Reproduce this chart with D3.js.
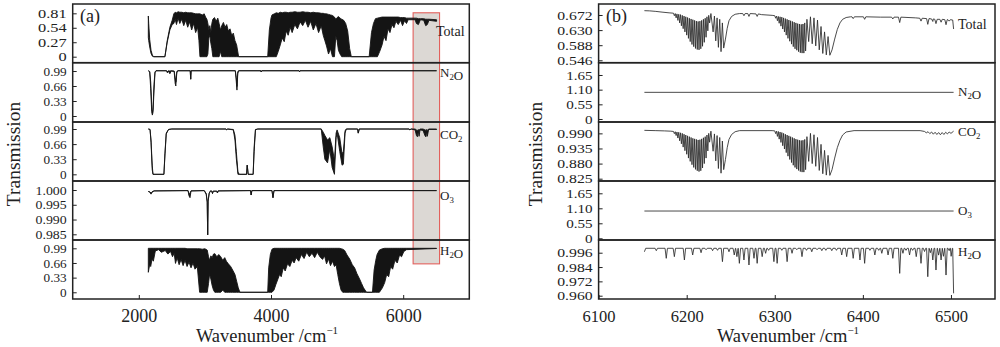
<!DOCTYPE html>
<html>
<head>
<meta charset="utf-8">
<title>Transmission spectra</title>
<script src="https://d3js.org/d3.v7.min.js"></script>
<style>
  body { margin: 0; background: #fff; }
  svg text { font-family: "Liberation Serif", "DejaVu Serif", serif; fill: #222; }
</style>
</head>
<body>
<svg id="chart" width="1000" height="347"></svg>
<script>
// ---------- panel (a): [wavenumber, upper envelope, lower envelope] ----------
const totalA = [
  [2144,0.76,0.36],[2150,0.62,0.30],[2165,0.32,0.18],[2185,0.12,0.06],[2205,0.03,0.01],[2225,0,0],
  [2395,0,0],[2430,0.30,0.27],[2470,0.55,0.50],[2505,0.68,0.60],[2530,0.80,0.62],[2550,0.83,0.70],
  [2570,0.82,0.60],[2595,0.84,0.72],[2620,0.83,0.62],[2650,0.83,0.70],[2680,0.82,0.58],[2710,0.83,0.68],
  [2740,0.82,0.55],[2770,0.82,0.65],[2800,0.82,0.50],[2830,0.81,0.62],[2860,0.80,0.45],[2890,0.80,0.55],
  [2910,0.80,0.30],[2925,0.80,0],[2960,0.78,0],[2990,0.80,0],[3010,0.74,0],[3030,0.70,0],
  [3045,0.62,0.05],[3060,0.50,0.35],[3075,0.58,0.40],[3090,0.45,0.25],[3105,0.62,0.15],[3120,0.70,0],
  [3145,0.73,0],[3170,0.66,0],[3195,0.72,0],[3215,0.62,0],[3235,0.50,0.10],[3255,0.58,0],[3280,0.64,0],
  [3305,0.55,0],[3330,0.60,0],[3355,0.48,0],[3380,0.52,0],[3405,0.40,0],[3430,0.44,0],[3455,0.30,0],
  [3480,0.22,0],[3510,0,0],[3950,0,0],[3975,0.50,0],[4000,0.72,0],[4015,0.78,0],[4050,0.80,0],
  [4080,0.82,0],[4110,0.81,0.10],[4140,0.83,0.22],[4170,0.82,0.35],[4200,0.83,0.28],[4230,0.83,0.48],
  [4260,0.82,0.40],[4290,0.83,0.55],[4320,0.83,0.45],[4360,0.84,0.60],[4400,0.83,0.52],[4440,0.83,0.65],
  [4480,0.84,0.58],[4520,0.83,0.68],[4560,0.83,0.55],[4600,0.82,0.66],[4640,0.83,0.50],[4680,0.82,0.62],
  [4720,0.82,0.45],[4760,0.81,0.58],[4790,0.81,0.40],[4815,0.80,0.30],[4840,0.80,0.20],[4870,0.79,0.05],
  [4900,0.78,0.15],[4930,0.77,0],[4960,0.74,0],[4980,0.70,0.38],[5000,0.73,0.30],[5020,0.75,0.12],
  [5045,0.72,0.05],[5070,0.70,0],[5100,0.68,0],[5130,0.62,0],[5160,0.48,0],[5190,0.15,0],[5215,0,0],
  [5485,0,0],[5520,0.45,0],[5550,0.62,0],[5580,0.71,0],[5610,0.72,0],[5645,0.73,0.10],[5680,0.74,0.22],
  [5710,0.74,0.38],[5740,0.74,0.30],[5770,0.74,0.52],[5800,0.74,0.45],[5830,0.74,0.60],[5860,0.74,0.54],
  [5890,0.74,0.66],[5925,0.74,0.60],[5960,0.73,0.68],[5990,0.73,0.58],[6020,0.73,0.67],[6050,0.72,0.62],
  [6075,0.72,0.69],[6180,0.72,0.69],[6200,0.72,0.62],[6230,0.71,0.60],[6260,0.71,0.69],[6310,0.71,0.68],
  [6340,0.70,0.58],[6365,0.70,0.60],[6390,0.70,0.68],[6505,0.69,0.66]
];
const n2oA = [
  [2144,0.996,0.996],[2165,0.98,0.97],[2180,0.75,0.60],[2195,0.25,0.10],[2205,0.06,0.02],
  [2215,0.15,0.08],[2230,0.70,0.55],[2245,0.97,0.95],[2260,0.996,0.996],[2420,0.996,0.996],
  [2432,0.97,0.95],[2445,0.995,0.99],[2470,0.99,0.93],[2490,0.995,0.99],[2535,0.99,0.98],
  [2550,0.85,0.72],[2560,0.75,0.66],[2575,0.98,0.95],[2590,0.996,0.996],[2778,0.996,0.996],
  [2785,0.81,0.81],[2792,0.996,0.996],[3460,0.996,0.996],[3475,0.85,0.75],[3485,0.65,0.57],
  [3497,0.97,0.93],[3510,0.996,0.996],[3845,0.996,0.996],[3852,0.97,0.97],[3860,0.996,0.996],
  [4425,0.996,0.996],[4432,0.975,0.975],[4440,0.996,0.996],[6505,0.996,0.996]
];
const co2A = [
  [2144,0.99,0.99],[2170,0.98,0.98],[2185,0.75,0.70],[2203,0.20,0.10],[2215,0,0],[2380,0,0],
  [2395,0.45,0.40],[2415,0.90,0.88],[2450,0.98,0.98],[2500,0.99,0.99],[3320,0.99,0.99],
  [3330,0.975,0.97],[3345,0.99,0.99],[3430,0.98,0.97],[3455,0.85,0.75],[3475,0.50,0.35],
  [3500,0.05,0],[3520,0,0],[3630,0,0],[3640,0.20,0.20],[3655,0,0],[3730,0,0],[3745,0.60,0.50],
  [3765,0.98,0.97],[3800,0.99,0.99],[4760,0.99,0.99],[4790,0.92,0.60],[4815,0.85,0.33],
  [4855,0.75,0.25],[4890,0.80,0.55],[4925,0.60,0.15],[4960,0.30,0],[4985,0.90,0.80],
  [5000,0.97,0.90],[5040,0.80,0.50],[5075,0.45,0.20],[5095,0.50,0.22],[5120,0.95,0.90],
  [5140,0.99,0.99],[5310,0.99,0.99],[5320,0.90,0.90],[5335,0.99,0.99],[6090,0.99,0.99],
  [6100,0.975,0.97],[6120,0.99,0.99],[6180,0.99,0.97],[6200,0.97,0.85],[6215,0.95,0.82],
  [6228,0.98,0.95],[6240,0.96,0.83],[6255,0.99,0.97],[6300,0.99,0.96],[6330,0.97,0.84],
  [6345,0.96,0.82],[6355,0.98,0.94],[6365,0.96,0.83],[6385,0.99,0.98],[6505,0.99,0.98]
];
const o3A = [
  [2144,0.9995,0.9995],[2165,0.9994,0.9993],[2185,0.9990,0.9986],[2200,0.9994,0.9992],
  [2230,0.9997,0.9997],[2745,0.9998,0.9998],[2760,0.9985,0.9980],[2775,0.9990,0.9974],
  [2790,0.9997,0.9997],[2990,0.9998,0.9998],[3020,0.9988,0.9985],[3035,0.9962,0.9958],
  [3042,0.9848,0.9848],[3049,0.9965,0.9962],[3065,0.9990,0.9988],[3085,0.9997,0.9997],
  [3105,0.9996,0.9996],[3115,0.9988,0.9988],[3125,0.9996,0.9996],[3180,0.9996,0.9996],
  [3190,0.9990,0.9990],[3200,0.9997,0.9997],[3690,0.9998,0.9998],[3700,0.9983,0.9983],
  [3710,0.9998,0.9998],[4015,0.9998,0.9998],[4030,0.9974,0.9974],[4045,0.9998,0.9998],
  [6505,0.9998,0.9998]
];
const h2oA = [
  [2144,0.99,0.45],[2152,0.99,0.52],[2165,0.99,0.62],[2180,0.99,0.58],[2200,0.99,0.75],[2220,0.99,0.70],
  [2250,0.99,0.93],[2300,0.99,0.96],[2340,0.99,0.90],[2400,0.99,0.94],[2440,0.99,0.86],[2480,0.99,0.92],
  [2510,0.99,0.80],[2535,0.99,0.88],[2555,0.99,0.65],[2580,0.99,0.78],[2610,0.99,0.62],[2640,0.99,0.74],
  [2670,0.99,0.60],[2700,0.99,0.72],[2730,0.98,0.58],[2760,0.98,0.68],[2790,0.98,0.55],[2820,0.98,0.66],
  [2850,0.98,0.52],[2885,0.98,0.58],[2920,0.98,0],[2960,0.97,0],[3000,0.98,0],[3035,0.95,0],
  [3055,0.80,0.20],[3070,0.72,0.40],[3090,0.82,0.30],[3110,0.78,0.15],[3130,0.86,0.05],[3150,0.87,0],
  [3180,0.80,0],[3210,0.85,0],[3240,0.80,0],[3270,0.72,0.05],[3300,0.78,0],[3325,0.70,0],[3355,0.64,0],
  [3390,0.58,0],[3420,0.50,0],[3455,0.40,0],[3480,0.25,0],[3505,0.10,0],[3530,0,0],[3950,0,0],
  [3965,0.55,0],[3990,0.85,0],[4015,0.97,0],[4045,0.99,0.05],[4075,0.99,0.18],[4105,0.99,0.30],
  [4130,0.99,0.40],[4155,0.99,0.35],[4185,0.99,0.55],[4215,0.99,0.48],[4250,0.99,0.64],[4285,0.99,0.58],
  [4320,0.99,0.72],[4350,0.99,0.66],[4380,0.99,0.78],[4420,0.99,0.70],[4460,0.99,0.85],[4500,0.99,0.76],
  [4540,0.99,0.90],[4580,0.99,0.80],[4620,0.99,0.88],[4660,0.99,0.78],[4700,0.99,0.90],[4740,0.99,0.80],
  [4780,0.99,0.74],[4810,0.99,0.82],[4840,0.99,0.64],[4870,0.99,0.75],[4900,0.99,0.60],[4930,0.99,0.70],
  [4960,0.99,0.58],[4985,0.99,0.62],[5010,0.99,0.40],[5035,0.99,0.20],[5060,0.98,0.05],[5085,0.97,0],
  [5115,0.94,0],[5150,0.84,0],[5190,0.75,0],[5230,0.62,0],[5265,0.55,0],[5300,0.42,0],[5340,0.30,0],
  [5370,0.20,0],[5400,0.10,0],[5445,0,0],[5535,0,0],[5560,0.50,0],[5585,0.72,0],[5605,0.85,0],
  [5640,0.95,0],[5685,0.98,0.10],[5720,0.99,0.22],[5750,0.99,0.40],[5780,0.99,0.35],[5810,0.99,0.58],
  [5840,0.99,0.52],[5875,0.99,0.72],[5910,0.99,0.66],[5945,0.99,0.84],[5975,0.99,0.80],[6010,0.99,0.92],
  [6050,0.99,0.96],[6505,0.99,0.985]
];
const highlightA = { wn: [6150, 6550], totalTop: 0.82, h2oBottom: 0.64 };

// ---------- panel (b): curves [wavenumber, T] and narrow lines [wavenumber, top, minimum] ----------
const totalB = [
  [6152,0.684],[6158,0.6835],[6165,0.682],[6172,0.680],[6180,0.678],
  [6185,0.677],[6186,0.670],[6187,0.676],[6188,0.664],[6189,0.675],[6190,0.657],[6191,0.674],[6192,0.650],
  [6193,0.673],[6194,0.642],[6195,0.671],[6196,0.634],[6197,0.669],[6198,0.625],[6199,0.667],[6200,0.616],
  [6201,0.665],[6202,0.607],[6203,0.663],[6204,0.598],[6205,0.661],[6206,0.590],[6207,0.659],[6208,0.584],
  [6209,0.657],[6210,0.579],[6211,0.655],[6212,0.576],[6213,0.654],[6214,0.575],[6215,0.655],[6216,0.578],
  [6217,0.657],[6218,0.585],[6219,0.660],[6220,0.596],[6221,0.663],[6222,0.610],[6223,0.667],[6224,0.628],
  [6225,0.671],[6226,0.650],[6227.5,0.676],
  [6230,0.625],[6231.5,0.669],[6233,0.600],[6234.5,0.664],[6236,0.582],[6237.5,0.660],[6239,0.570],
  [6240.5,0.650],[6242,0.580],[6244,0.605],[6246,0.635],[6248,0.656],[6251,0.668],[6255,0.674],[6260,0.676],
  [6285,0.673],[6297,0.671],
  [6300,0.670],[6301,0.663],[6302,0.669],[6303,0.656],[6304,0.668],[6305,0.649],[6306,0.667],[6307,0.641],
  [6308,0.666],[6309,0.633],[6310,0.664],[6311,0.625],[6312,0.662],[6313,0.616],[6314,0.660],[6315,0.607],
  [6316,0.658],[6317,0.599],[6318,0.656],[6319,0.591],[6320,0.654],[6321,0.584],[6322,0.652],[6323,0.578],
  [6324,0.650],[6325,0.574],[6326,0.648],[6327,0.570],[6328,0.647],[6329,0.567],[6330,0.646],[6331,0.566],
  [6332,0.647],[6333,0.566],[6334,0.650],[6335,0.572],[6336.5,0.660],
  [6338.5,0.598],[6340.5,0.667],[6342.5,0.592],[6344.5,0.664],[6346.5,0.586],[6348.5,0.658],[6350.5,0.575],
  [6352.5,0.640],[6354.5,0.565],[6356.5,0.625],[6358.5,0.561],[6360.5,0.612],[6362.5,0.560],
  [6365,0.575],[6368,0.605],[6371,0.632],[6374,0.650],[6377,0.660],[6381,0.665],[6386,0.667],
  [6420,0.666],[6460,0.664],[6480,0.661],[6502,0.658],[6503,0.633]
];
const totalBLines = [
  [6265,0.676,0.670],[6270.7,0.676,0.668],[6280,0.675,0.668],[6389,0.667,0.662],[6402,0.667,0.660],
  [6434,0.666,0.661],[6441.8,0.666,0.651],[6466,0.663,0.655],[6473.7,0.662,0.646],[6479.4,0.661,0.654],
  [6483,0.660,0.648],[6488.8,0.660,0.652],[6494.4,0.659,0.645],[6498,0.659,0.655]
];
const n2oB = [[6152,1.0],[6503,1.0]];
const co2B = [
  [6152,1.001],[6165,1.000],[6175,0.999],[6182,0.998],
  [6185,0.997],[6186,0.989],[6187,0.996],[6188,0.982],[6189,0.995],[6190,0.973],[6191,0.994],[6192,0.963],
  [6193,0.992],[6194,0.952],[6195,0.990],[6196,0.940],[6197,0.987],[6198,0.927],[6199,0.984],[6200,0.914],
  [6201,0.981],[6202,0.900],[6203,0.978],[6204,0.888],[6205,0.975],[6206,0.876],[6207,0.972],[6208,0.866],
  [6209,0.970],[6210,0.859],[6211,0.968],[6212,0.854],[6213,0.966],[6214,0.851],[6215,0.967],[6216,0.854],
  [6217,0.970],[6218,0.864],[6219,0.974],[6220,0.880],[6221,0.978],[6222,0.900],[6223,0.984],[6224,0.926],
  [6225,0.990],[6226,0.958],[6227.5,0.998],
  [6230,0.925],[6231.5,0.988],[6233,0.890],[6234.5,0.982],[6236,0.862],[6237.5,0.975],[6239,0.845],
  [6240.5,0.962],[6242,0.858],[6244,0.895],[6246,0.938],[6248,0.968],[6251,0.986],[6255,0.996],[6260,1.000],
  [6297,1.000],
  [6300,0.999],[6301,0.989],[6302,0.998],[6303,0.979],[6304,0.997],[6305,0.969],[6306,0.995],[6307,0.957],
  [6308,0.993],[6309,0.945],[6310,0.990],[6311,0.933],[6312,0.987],[6313,0.920],[6314,0.984],[6315,0.907],
  [6316,0.981],[6317,0.895],[6318,0.978],[6319,0.884],[6320,0.975],[6321,0.874],[6322,0.972],[6323,0.866],
  [6324,0.969],[6325,0.860],[6326,0.967],[6327,0.855],[6328,0.965],[6329,0.851],[6330,0.964],[6331,0.849],
  [6332,0.965],[6333,0.849],[6334,0.968],[6335,0.858],[6336.5,0.978],
  [6338.5,0.888],[6340.5,0.990],[6342.5,0.880],[6344.5,0.985],[6346.5,0.870],[6348.5,0.975],[6350.5,0.855],
  [6352.5,0.950],[6354.5,0.843],[6356.5,0.928],[6358.5,0.838],[6360.5,0.910],[6362.5,0.837],
  [6365,0.858],[6368,0.900],[6371,0.938],[6374,0.965],[6377,0.984],[6381,0.995],[6390,1.000],[6465,1.000],
  [6470,0.997],[6472,0.992],[6474,0.996],[6476,0.989],[6478,0.995],[6480,0.987],[6482,0.994],[6484,0.986],
  [6486,0.993],[6488,0.985],[6490,0.993],[6492,0.986],[6494,0.994],[6496,0.988],[6498,0.995],[6500,0.990],
  [6503,0.998]
];
const o3B = [[6152,1.0],[6503,1.0]];
const h2oB = [[6152,0.9968],[6153.5,0.9997],[6502,0.9997],[6503,0.9620]];
const h2oBLines = [
  [6165.5,0.9997,0.9977],[6176.8,0.9997,0.9913],[6186,0.9997,0.9927],[6197.4,0.9997,0.9899],
  [6206.8,0.9997,0.9941],[6216.3,0.9997,0.9960],[6222,0.9997,0.9985],[6229.4,0.9997,0.9977],
  [6235,0.9997,0.9980],[6240.6,0.9997,0.9885],[6248,0.9997,0.9968],[6254,0.9997,0.9941],
  [6257,0.9997,0.9927],[6259.8,0.9997,0.9871],[6265,0.9997,0.9899],[6270.7,0.9997,0.9857],
  [6276.4,0.9997,0.9913],[6280,0.9997,0.9871],[6285.7,0.9997,0.9927],[6289.6,0.9997,0.9955],
  [6293,0.9997,0.9980],[6299,0.9997,0.9885],[6302.7,0.9997,0.9871],[6308,0.9997,0.9980],
  [6314,0.9997,0.9885],[6319.6,0.9997,0.9955],[6325,0.9997,0.9985],[6330.9,0.9997,0.9927],
  [6336,0.9997,0.9980],[6342,0.9997,0.9968],[6348,0.9997,0.9985],[6353.4,0.9997,0.9977],
  [6358,0.9997,0.9980],[6364.7,0.9997,0.9977],[6370,0.9997,0.9980],[6376,0.9997,0.9941],
  [6381.6,0.9997,0.9927],[6389,0.9997,0.9913],[6396.7,0.9997,0.9899],[6402,0.9997,0.9871],
  [6408,0.9997,0.9980],[6413.6,0.9997,0.9941],[6418,0.9997,0.9980],[6421.5,0.9997,0.9955],
  [6428.6,0.9997,0.9941],[6434,0.9997,0.9913],[6441.8,0.9997,0.9787],[6445.5,0.9997,0.9955],
  [6449,0.9997,0.9980],[6453,0.9997,0.9941],[6456.5,0.9997,0.9980],[6460.6,0.9997,0.9927],
  [6466,0.9997,0.9871],[6470,0.9997,0.9970],[6473.7,0.9997,0.9759],[6476.6,0.9997,0.9960],
  [6479.4,0.9997,0.9899],[6483,0.9997,0.9815],[6486,0.9997,0.9940],[6488.8,0.9997,0.9899],
  [6491.5,0.9997,0.9930],[6494.4,0.9997,0.9773],[6498,0.9997,0.9977],[6500.2,0.9997,0.9930]
];

// ---------- axes ----------
const ticksTotalA = [0, 0.27, 0.54, 0.81];
const ticksFracA = [0, 0.33, 0.66, 0.99];
const ticksO3A = [0.985, 0.990, 0.995, 1.000];
const ticksTotalB = [0.546, 0.588, 0.630, 0.672];
const ticksFlatB = [0, 0.55, 1.10, 1.65];
const ticksCO2B = [0.825, 0.880, 0.935, 0.990];
const ticksH2OB = [0.960, 0.972, 0.984, 0.996];
const xTicksA = [2000, 4000, 6000];
const xTicksB = [6100, 6200, 6300, 6400, 6500];
const names = ["Total", "N2O", "CO2", "O3", "H2O"];

const rowEdges = [4, 62.7, 122, 181, 240, 299];
const ink = "#222";

const panels = [
  {
    tag: "(a)", left: 72.7, right: 469.3, xDomain: [1000, 7000], xTicks: xTicksA,
    xFont: 18, xPad: 10, titleX: 267, ytitleX: 20, tagX: 80, nameX: [436, 440, 440, 440, 440],
    nameY: [36, 77, 139, 200, 255], kind: "env",
    rows: [
      { data: totalA, domain: [-0.112, 0.984], ticks: ticksTotalA, dec: 2, stretch: 1.3 },
      { data: n2oA, domain: [-0.132, 1.173], ticks: ticksFracA, dec: 2, stretch: 1.05 },
      { data: co2A, domain: [-0.146, 1.143], ticks: ticksFracA, dec: 2, stretch: 1.05 },
      { data: o3A, domain: [0.98307, 1.00305], ticks: ticksO3A, dec: 3, stretch: 1.1 },
      { data: h2oA, domain: [-0.151, 1.177], ticks: ticksFracA, dec: 2, stretch: 1.05 }
    ]
  },
  {
    tag: "(b)", left: 598.6, right: 995, xDomain: [6100, 6550], xTicks: xTicksB,
    xFont: 16.5, xPad: 11, titleX: 788, ytitleX: 542, tagX: 606, nameX: [958, 958, 958, 958, 958],
    nameY: [29, 96, 136, 215, 256], kind: "line",
    rows: [
      { data: totalB, lines: totalBLines, domain: [0.5393, 0.7026], ticks: ticksTotalB, dec: 3, stretch: 1.25 },
      { data: n2oB, lines: [], domain: [-0.1125, 2.111], ticks: ticksFlatB, dec: 2, stretch: 1.2 },
      { data: co2B, lines: [], domain: [0.8166, 1.0314], ticks: ticksCO2B, dec: 3, stretch: 1.25 },
      { data: o3B, lines: [], domain: [-0.0623, 2.101], ticks: ticksFlatB, dec: 2, stretch: 1.2 },
      { data: h2oB, lines: h2oBLines, domain: [0.95724, 1.00664], ticks: ticksH2OB, dec: 3, stretch: 1.25 }
    ]
  }
];
const yTickFont = 12.6;

const svg = d3.select("#chart");

// chemical names with digits as subscripts
function addName(sel, name, size) {
  const t = sel.append("text").attr("font-size", size);
  name.split(/(\d)/).filter(s => s).forEach(part => {
    if (/\d/.test(part)) {
      t.append("tspan").attr("font-size", size * 0.68).attr("dy", size * 0.22).text(part);
      t.append("tspan").attr("dy", -size * 0.22).text("");
    } else {
      t.append("tspan").text(part);
    }
  });
  return t;
}

panels.forEach(p => {
  const x = d3.scaleLinear().domain(p.xDomain).range([p.left, p.right]);
  const g = svg.append("g");
  const ys = p.rows.map((r, i) => d3.scaleLinear().domain(r.domain).range([rowEdges[i + 1], rowEdges[i]]));

  // shaded window in panel (a)
  if (p.kind === "env") {
    g.append("rect")
      .attr("x", x(highlightA.wn[0]))
      .attr("y", ys[0](highlightA.totalTop))
      .attr("width", x(highlightA.wn[1]) - x(highlightA.wn[0]))
      .attr("height", ys[4](highlightA.h2oBottom) - ys[0](highlightA.totalTop))
      .attr("fill", "#dcd8d4")
      .attr("stroke", "#e2615d")
      .attr("stroke-width", 1.1);
  }

  p.rows.forEach((r, i) => {
    const y = ys[i];
    if (p.kind === "env") {
      const area = d3.area().x(d => x(d[0])).y0(d => y(d[2])).y1(d => y(d[1]));
      g.append("path").datum(r.data)
        .attr("d", area)
        .attr("fill", "#141414")
        .attr("stroke", "#141414")
        .attr("stroke-width", 0.9)
        .attr("stroke-linejoin", "round");
    } else {
      const pts = r.data.map(d => [x(d[0]), y(d[1])]);
      r.lines.forEach(d => {
        const cx = x(d[0]);
        pts.push([cx - 1.2, y(d[1])], [cx, y(d[2])], [cx + 1.2, y(d[1])]);
      });
      pts.sort((a, b) => a[0] - b[0]);
      g.append("path")
        .attr("d", d3.line()(pts))
        .attr("fill", "none")
        .attr("stroke", "#2a2a2a")
        .attr("stroke-width", 0.85);
    }

    // left axis, inward ticks; labels widened a little, as in the print
    const ax = g.append("g")
      .attr("transform", `translate(${p.left},0)`)
      .call(d3.axisLeft(y).tickValues(r.ticks).tickSize(-4).tickPadding(6)
        .tickFormat(v => v === 0 ? "0" : v.toFixed(r.dec)));
    ax.select(".domain").remove();
    ax.attr("font-family", null).attr("font-size", yTickFont).style("color", ink);
    ax.selectAll("line").attr("stroke-width", 1);
    ax.selectAll("text")
      .attr("x", -6 / r.stretch)
      .attr("transform", `scale(${r.stretch},1)`);

    // series label
    addName(g, names[i], names[i] === "Total" ? 14 : 13)
      .attr("x", p.nameX[i]).attr("y", p.nameY[i]);
  });

  // subplot frames
  rowEdges.slice(0, -1).forEach((top, i) => {
    g.append("rect")
      .attr("x", p.left).attr("y", top)
      .attr("width", p.right - p.left).attr("height", rowEdges[i + 1] - top)
      .attr("fill", "none").attr("stroke", ink).attr("stroke-width", 1.5);
  });

  // bottom axis
  const xa = g.append("g")
    .attr("transform", `translate(0,${rowEdges[5]})`)
    .call(d3.axisBottom(x).tickValues(p.xTicks).tickSize(-4).tickPadding(p.xPad).tickFormat(d3.format("d")));
  xa.select(".domain").remove();
  xa.attr("font-family", null).attr("font-size", p.xFont).style("color", ink);

  // titles
  const xt = g.append("text")
    .attr("x", p.titleX).attr("y", 342)
    .attr("text-anchor", "middle").attr("font-size", 18.5);
  xt.append("tspan").text("Wavenumber /cm");
  xt.append("tspan").attr("font-size", 11).attr("dy", -8).text("\u22121");

  g.append("text")
    .attr("transform", `translate(${p.ytitleX},154) rotate(-90)`)
    .attr("text-anchor", "middle").attr("font-size", 19.5)
    .text("Transmission");

  g.append("text")
    .attr("x", p.tagX).attr("y", 22)
    .attr("font-size", 18)
    .text(p.tag);
});
</script>
</body>
</html>
